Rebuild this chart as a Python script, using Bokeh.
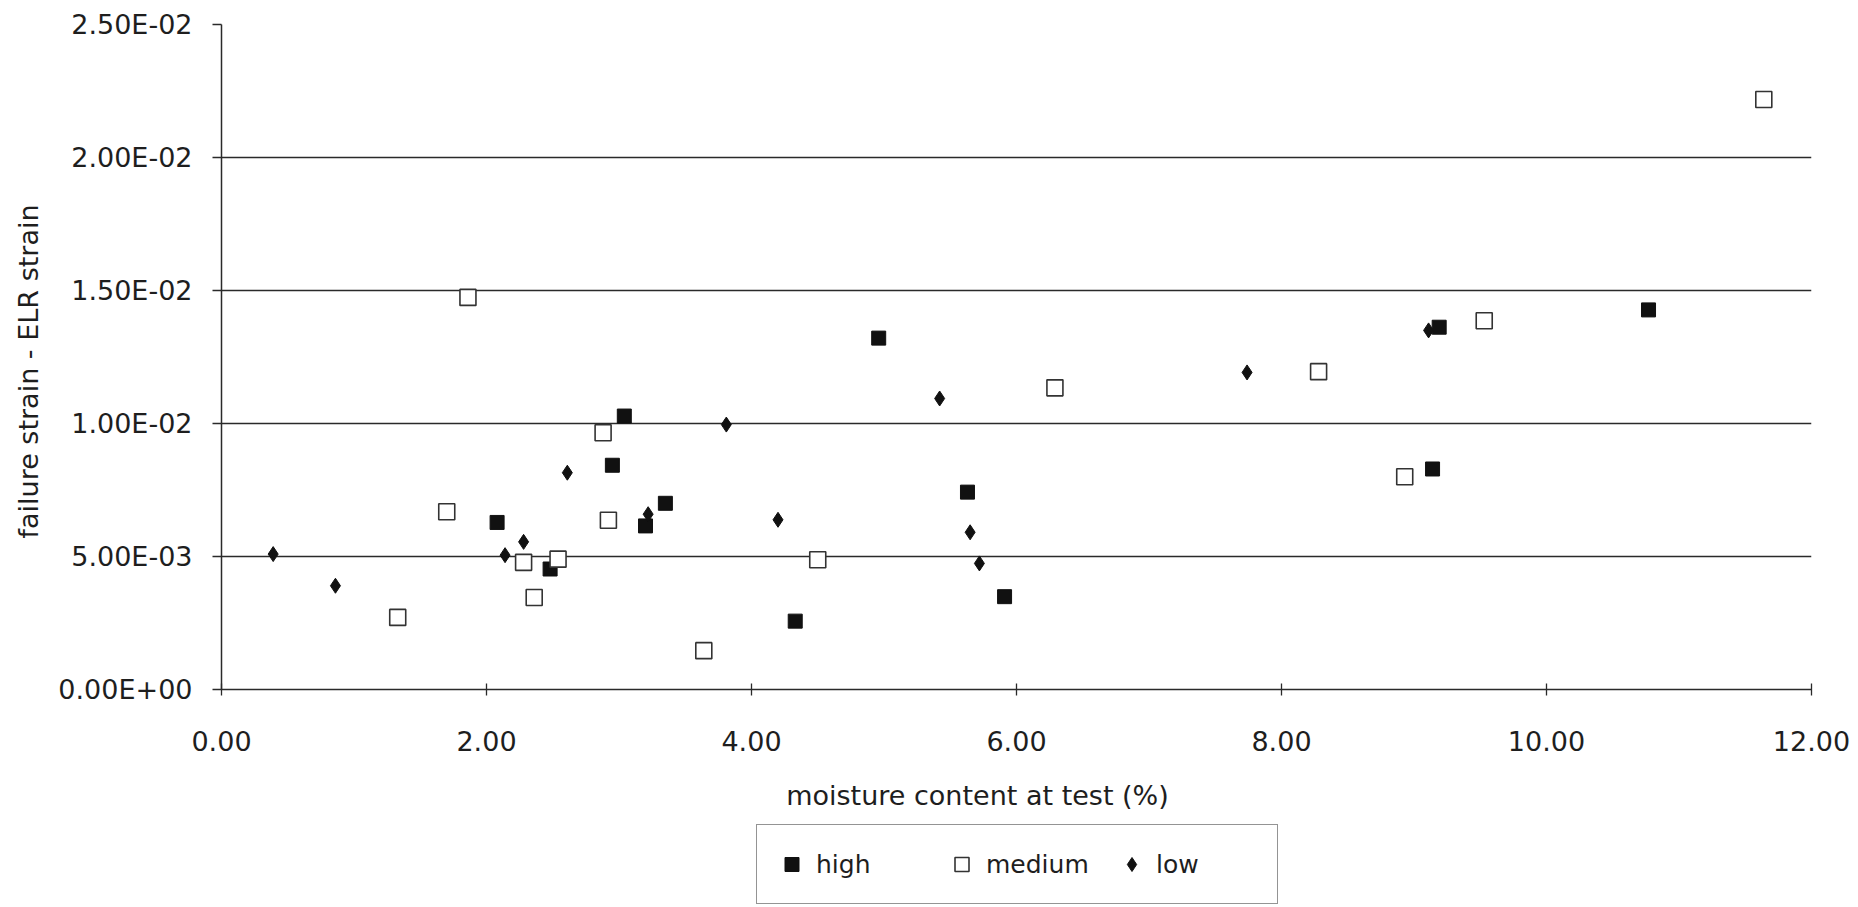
from bokeh.plotting import figure
from bokeh.layouts import column
from bokeh.models import (Range1d, FixedTicker, CustomJSTickFormatter, PrintfTickFormatter,
                          Legend, LegendItem, Title, Label)
from bokeh.embed import file_html
from bokeh.resources import INLINE

# ---- data ----
high_x = [2.08, 2.48, 2.95, 3.04, 3.20, 3.35, 4.33, 4.96, 5.63, 5.91, 9.14, 9.19, 10.77]
high_y = [0.00628, 0.00453, 0.00843, 0.01028, 0.00615, 0.00700, 0.00257, 0.01321,
          0.00742, 0.00349, 0.00829, 0.01362, 0.01427]

medium_x = [1.33, 1.70, 1.86, 2.28, 2.36, 2.54, 2.88, 2.92, 3.64, 4.50, 6.29, 8.28,
            8.93, 9.53, 11.64]
medium_y = [0.00271, 0.00668, 0.01474, 0.00478, 0.00346, 0.00490, 0.00965, 0.00636,
            0.00146, 0.00488, 0.01134, 0.01195, 0.00800, 0.01386, 0.02218]

low_x = [0.39, 0.86, 2.14, 2.28, 2.61, 3.22, 3.81, 4.20, 5.42, 5.65, 5.72, 7.74, 9.11]
low_y = [0.00509, 0.00390, 0.00505, 0.00555, 0.00815, 0.00659, 0.00996, 0.00638,
         0.01094, 0.00591, 0.00474, 0.01192, 0.01350]

x_ticks = [0, 2, 4, 6, 8, 10, 12]
y_ticks = [0.0, 0.005, 0.01, 0.015, 0.02, 0.025]
series_names = ["high", "medium", "low"]
x_title = "moisture content at test (%)"
y_title = "failure strain - ELR strain"

FONT = "DejaVu Sans"
TXT = "#1e1e1e"
LINE = "#2a2a2a"

HIGH_STYLE = dict(marker="square", fill_color="#111111", line_color="#111111", line_width=1)
MED_STYLE = dict(marker="square", fill_color="white", line_color="#333333", line_width=1.6)
LOW_STYLE = dict(marker="diamond", fill_color="#111111", line_color="#111111", line_width=1)

# ---- main chart ----
p = figure(width=1858, height=763, output_backend="svg", toolbar_location=None,
           x_range=Range1d(0, 12), y_range=Range1d(0, 0.025),
           min_border_left=217, min_border_right=47, min_border_top=24,
           min_border_bottom=74)
p.outline_line_color = None
p.background_fill_color = "white"
p.border_fill_color = "white"

p.xgrid.visible = False
p.ygrid.ticker = FixedTicker(ticks=y_ticks)
p.ygrid.grid_line_color = LINE
p.ygrid.grid_line_width = 1.4

xa = p.xaxis[0]
xa.ticker = FixedTicker(ticks=x_ticks)
xa.formatter = PrintfTickFormatter(format="%.2f")
xa.major_tick_in = 6
xa.major_tick_out = 6
xa.minor_tick_line_color = None
xa.axis_line_color = LINE
xa.axis_line_width = 1.5
xa.major_tick_line_color = LINE
xa.major_tick_line_width = 1.3
xa.major_label_standoff = 35
xa.major_label_text_font = FONT
xa.major_label_text_font_size = "27px"
xa.major_label_text_color = TXT

ya = p.yaxis[0]
ya.ticker = FixedTicker(ticks=y_ticks)
ya.formatter = CustomJSTickFormatter(code="""
    const s = tick.toExponential(2).toUpperCase();
    const parts = s.split("E");
    let e = parseInt(parts[1]);
    const sign = e < 0 ? "-" : "+";
    e = Math.abs(e);
    return parts[0] + "E" + sign + (e < 10 ? "0" : "") + e;
""")
ya.major_tick_in = 0
ya.major_tick_out = 9
ya.minor_tick_line_color = None
ya.axis_line_color = LINE
ya.axis_line_width = 1.5
ya.major_tick_line_color = LINE
ya.major_tick_line_width = 1.3
ya.major_label_standoff = 20
ya.major_label_text_font = FONT
ya.major_label_text_font_size = "27px"
ya.major_label_text_color = TXT

# y-axis title as a side title so it can sit where the reference has it
ytitle = Title(text=y_title, align="left", offset=151, vertical_align="middle",
               standoff=22, text_font=FONT, text_font_size="27px",
               text_font_style="normal", text_color=TXT)
p.add_layout(ytitle, "left")

p.scatter(high_x, high_y, size=14, **HIGH_STYLE)
p.scatter(medium_x, medium_y, size=16, **MED_STYLE)
p.scatter(low_x, low_y, size=15, **LOW_STYLE)

# ---- strip below: x-axis title and legend ----
q = figure(width=1858, height=144, output_backend="svg", toolbar_location=None,
           x_range=Range1d(-2, -1), y_range=Range1d(0, 1),
           x_axis_type=None, y_axis_type=None,
           min_border_left=0, min_border_right=0, min_border_top=0, min_border_bottom=0)
q.outline_line_color = None
q.background_fill_color = "white"
q.border_fill_color = "white"
q.grid.visible = False

q.add_layout(Label(x=756, y=112, x_units="screen", y_units="screen", text=x_title,
                   text_align="center", text_baseline="middle", text_font=FONT,
                   text_font_size="27px", text_color=TXT))

# legend glyph holders (their single points lie outside this strip's ranges)
g_high = q.scatter(high_x[:1], high_y[:1], size=14, **HIGH_STYLE)
g_med = q.scatter(medium_x[:1], medium_y[:1], size=16, **MED_STYLE)
g_low = q.scatter(low_x[:1], low_y[:1], size=15, **LOW_STYLE)

legend = Legend(
    items=[LegendItem(label=series_names[0], renderers=[g_high]),
           LegendItem(label=series_names[1], renderers=[g_med]),
           LegendItem(label=series_names[2], renderers=[g_low])],
    orientation="horizontal",
    location=(535, 3),
    border_line_color=LINE, border_line_width=1.5,
    background_fill_color="white", background_fill_alpha=1.0,
    padding=17, spacing=24, margin=0,
    glyph_width=35, glyph_height=44, label_standoff=7, label_width=104,
    label_text_font=FONT, label_text_font_size="25px", label_text_color=TXT,
)
q.add_layout(legend)

layout = column(p, q, spacing=0)
open("out.html", "w").write(file_html(layout, INLINE))
